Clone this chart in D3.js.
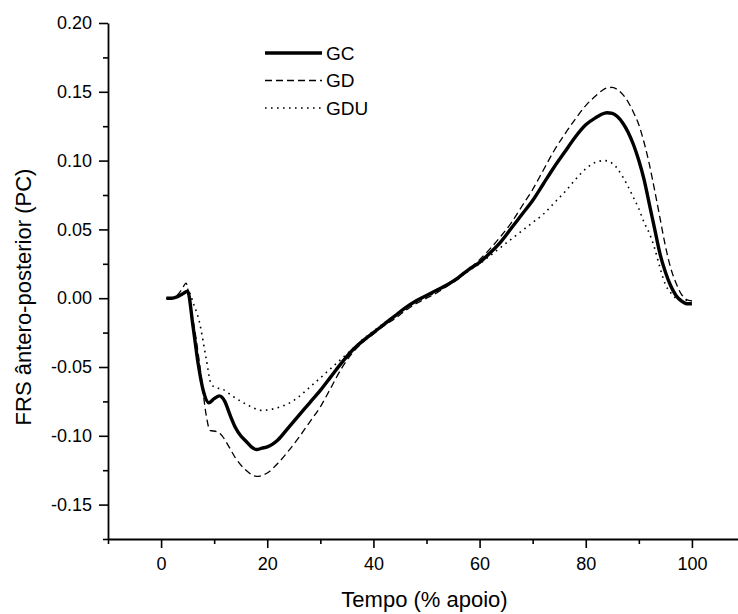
<!DOCTYPE html>
<html>
<head>
<meta charset="utf-8">
<script src="https://d3js.org/d3.v7.min.js"></script>
<style>
    body { margin: 0; background: #fff; }
    text { font-family: "Liberation Sans", Arial, sans-serif; fill: #000; }
</style>
</head>
<body>
<div id="chart"></div>
<script>
// values (% of stance vs. anteroposterior GRF)

var gcTempo = [1, 2, 3, 4, 5, 6, 7, 8, 9, 10, 11, 12, 13, 14, 15, 16, 17, 18, 19, 20, 21, 22, 24, 26, 28, 30, 32, 34, 36, 38, 40, 42, 44, 46, 48, 50, 52, 54, 56, 58, 60, 62, 64, 66, 68, 70, 72, 74, 76, 78, 80, 82, 83, 84, 85, 86, 87, 88, 89, 90, 91, 92, 93, 94, 95, 96, 97, 98, 99, 100];
var gcFrs = [0, 0, 0.001, 0.003, 0.005, -0.02, -0.048, -0.068, -0.076, -0.073, -0.071, -0.075, -0.085, -0.094, -0.1, -0.104, -0.108, -0.11, -0.109, -0.108, -0.106, -0.103, -0.094, -0.085, -0.076, -0.067, -0.057, -0.047, -0.038, -0.031, -0.025, -0.019, -0.013, -0.007, -0.002, 0.002, 0.006, 0.01, 0.015, 0.021, 0.026, 0.033, 0.041, 0.051, 0.061, 0.071, 0.083, 0.095, 0.106, 0.117, 0.126, 0.1315, 0.1337, 0.1348, 0.1343, 0.1318, 0.1272, 0.1205, 0.1115, 0.1, 0.086, 0.068, 0.05, 0.032, 0.019, 0.009, 0.002, -0.002, -0.004, -0.004];

var gdTempo = [1, 2, 3, 4, 4.7, 5.5, 6.5, 7.5, 8.5, 9.2, 10.5, 11.5, 12.5, 14, 16, 18, 20, 22, 24, 26, 28, 30, 32, 34, 36, 38, 40, 42, 44, 46, 48, 50, 52, 54, 56, 58, 60, 62, 64, 66, 68, 70, 72, 74, 76, 78, 80, 82, 83, 84, 85, 86, 87.5, 89, 90, 91, 92, 93, 94, 95, 96, 97, 98, 99, 100];
var gdFrs = [0, 0, 0.002, 0.007, 0.011, -0.005, -0.027, -0.055, -0.085, -0.096, -0.097, -0.1, -0.106, -0.116, -0.125, -0.1295, -0.127, -0.12, -0.111, -0.101, -0.09, -0.079, -0.065, -0.051, -0.04, -0.032, -0.026, -0.02, -0.015, -0.009, -0.004, 0, 0.004, 0.009, 0.014, 0.021, 0.028, 0.036, 0.045, 0.055, 0.067, 0.079, 0.093, 0.107, 0.119, 0.13, 0.14, 0.1475, 0.1507, 0.1528, 0.1532, 0.1515, 0.1455, 0.135, 0.126, 0.113, 0.097, 0.078, 0.058, 0.038, 0.022, 0.011, 0.003, -0.001, -0.002];

var gduTempo = [1, 2, 3, 4, 5.3, 6, 7.2, 8.5, 9.4, 10.3, 11.5, 13.4, 16, 19, 21.6, 24.7, 28.5, 32, 34, 36, 38, 40, 42, 44, 46, 48, 50, 52, 54, 56, 58, 60, 62, 64, 66, 68, 70, 72, 74, 76, 78, 80, 82, 83.5, 85, 86, 87, 88, 89, 90, 91, 92, 93, 94, 95, 96, 97, 98, 100];
var gduFrs = [0, 0, 0.001, 0.003, 0.004, -0.003, -0.017, -0.044, -0.062, -0.065, -0.066, -0.071, -0.077, -0.0815, -0.08, -0.075, -0.063, -0.051, -0.044, -0.037, -0.03, -0.024, -0.018, -0.013, -0.008, -0.003, 0.001, 0.005, 0.01, 0.015, 0.02, 0.025, 0.031, 0.037, 0.043, 0.049, 0.055, 0.061, 0.069, 0.077, 0.086, 0.094, 0.099, 0.1, 0.098, 0.094, 0.088, 0.081, 0.073, 0.065, 0.055, 0.047, 0.036, 0.022, 0.01, 0.004, 0, -0.001, -0.002];

var seriesNames = ['GC', 'GD', 'GDU'];

var xTicks = [0, 20, 40, 60, 80, 100];
var xMinorTicks = [-10, 10, 30, 50, 70, 90, 110];
var yTicks = [-0.15, -0.10, -0.05, 0.00, 0.05, 0.10, 0.15, 0.20];
var yMinorTicks = [-0.175, -0.125, -0.075, -0.025, 0.025, 0.075, 0.125, 0.175];

var xTitle = 'Tempo (% apoio)';
var yTitle = 'FRS ântero-posterior (PC)';

// size of the picture and of the plot area
var width = 738;
var height = 614;
var margin = { top: 23, left: 108, bottom: 75, right: -7 };

var plotW = width - margin.left - margin.right;
var plotH = height - margin.top - margin.bottom;

var svg = d3.select('#chart').append('svg')
    .attr('width', width)
    .attr('height', height);

var g = svg.append('g')
    .attr('transform', 'translate(' + margin.left + ',' + margin.top + ')');

var x = d3.scaleLinear()
    .domain([-10, 110])
    .range([0, plotW]);

var y = d3.scaleLinear()
    .domain([-0.175, 0.20])
    .range([plotH, 0]);

// minor ticks first, then the labelled ones on top
g.append('g')
    .attr('class', 'x minor')
    .attr('transform', 'translate(0,' + plotH + ')')
    .call(d3.axisBottom(x).tickValues(xMinorTicks).tickSize(5).tickFormat(''));

g.append('g')
    .attr('class', 'y minor')
    .call(d3.axisLeft(y).tickValues(yMinorTicks).tickSize(5).tickFormat(''));

var xAxis = g.append('g')
    .attr('class', 'x axis')
    .attr('transform', 'translate(0,' + plotH + ')')
    .call(d3.axisBottom(x).tickValues(xTicks).tickSize(9).tickSizeOuter(0).tickPadding(9));

var yAxis = g.append('g')
    .attr('class', 'y axis')
    .call(d3.axisLeft(y).tickValues(yTicks).tickSize(9).tickSizeOuter(0).tickPadding(7)
        .tickFormat(function (d) { return d.toFixed(2); }));

g.selectAll('.minor .domain').remove();
g.selectAll('.domain').attr('stroke-width', 1.8);
g.selectAll('.tick line').attr('stroke-width', 1.6);
g.selectAll('.axis text')
    .style('font-size', '18px')
    .style('font-family', '"Liberation Sans", Arial, sans-serif');

// axis titles
svg.append('text')
    .attr('x', margin.left + x(50) - 2)
    .attr('y', 607)
    .attr('text-anchor', 'middle')
    .style('font-size', '22px')
    .text(xTitle);

svg.append('text')
    .attr('transform', 'translate(31,297) rotate(-90)')
    .attr('text-anchor', 'middle')
    .style('font-size', '22px')
    .text(yTitle);

// the three curves
var series = [
    { name: seriesNames[0], tempo: gcTempo, frs: gcFrs, width: 3.4, dash: null },
    { name: seriesNames[1], tempo: gdTempo, frs: gdFrs, width: 1.3, dash: '7,4' },
    { name: seriesNames[2], tempo: gduTempo, frs: gduFrs, width: 1.6, dash: '1.6,4.4' }
];

var line = d3.line()
    .x(function (d) { return x(d[0]); })
    .y(function (d) { return y(d[1]); })
    .curve(d3.curveMonotoneX);

g.selectAll('.curve')
    .data(series)
    .enter()
    .append('path')
    .attr('class', 'curve')
    .attr('fill', 'none')
    .attr('stroke', '#000')
    .attr('stroke-width', function (d) { return d.width; })
    .attr('stroke-dasharray', function (d) { return d.dash; })
    .attr('stroke-linejoin', 'round')
    .attr('d', function (d) {
        return line(d.tempo.map(function (t, i) { return [t, d.frs[i]]; }));
    });

// legend
var legend = svg.append('g')
    .attr('transform', 'translate(265,53)');

var items = legend.selectAll('.item')
    .data(series)
    .enter()
    .append('g')
    .attr('class', 'item')
    .attr('transform', function (d, i) { return 'translate(0,' + (i * 27.5) + ')'; });

items.append('line')
    .attr('x1', 0)
    .attr('x2', 57)
    .attr('stroke', '#000')
    .attr('stroke-width', function (d) { return d.width; })
    .attr('stroke-dasharray', function (d) { return d.dash; });

items.append('text')
    .attr('x', 61)
    .attr('dy', '0.36em')
    .style('font-size', '19px')
    .text(function (d) { return d.name; });
</script>
</body>
</html>
